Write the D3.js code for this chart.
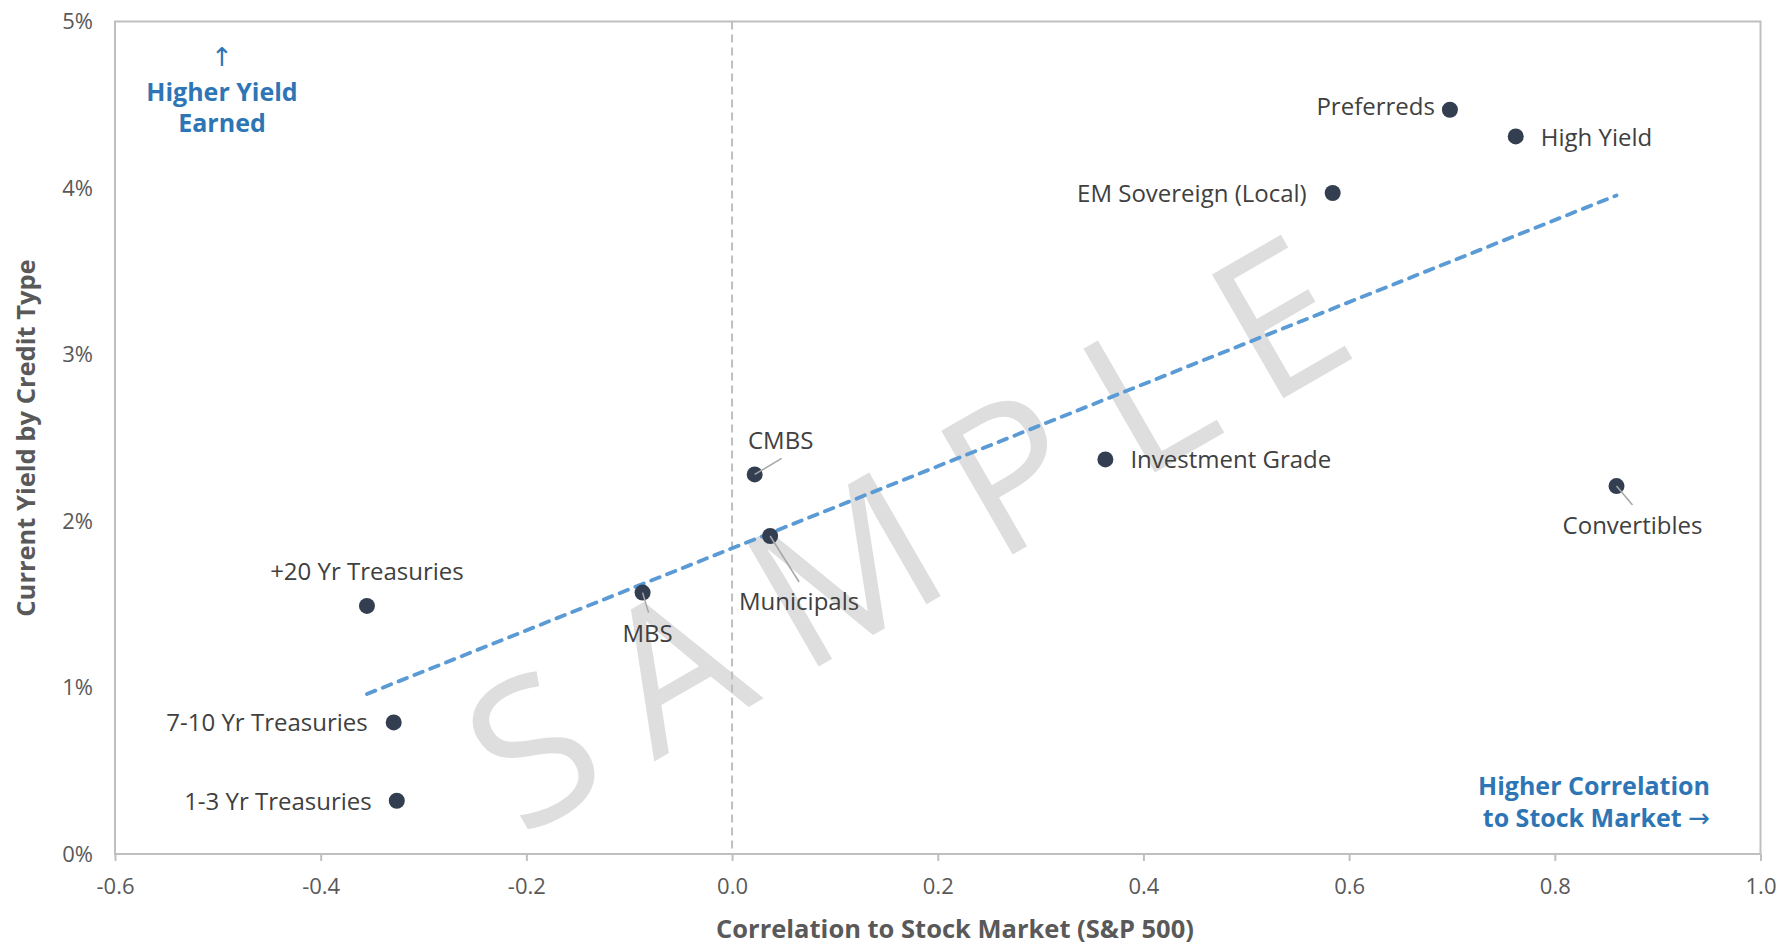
<!DOCTYPE html>
<html lang="en">
<head>
<meta charset="utf-8" />
<title>Yield vs Correlation</title>
<style>
  body { margin: 0; background: #fff; }
  text { font-family: "Open Sans", sans-serif; }
</style>
</head>
<body>
<div id="chart"></div>
<script src="https://d3js.org/d3.v7.min.js"></script>
<script>
// data
const names = ["Preferreds", "High Yield", "EM Sovereign (Local)", "Investment Grade", "Convertibles",
  "CMBS", "Municipals", "MBS", "+20 Yr Treasuries", "7-10 Yr Treasuries", "1-3 Yr Treasuries"];
const correlation = [0.698, 0.762, 0.584, 0.363, 0.860, 0.022, 0.037, -0.087, -0.355, -0.329, -0.326];
const yieldPct = [4.47, 4.31, 3.97, 2.37, 2.21, 2.28, 1.91, 1.57, 1.49, 0.79, 0.32];
const xTicks = [-0.6, -0.4, -0.2, 0.0, 0.2, 0.4, 0.6, 0.8, 1.0];
const yTicks = [0, 1, 2, 3, 4, 5];

// label placement (px offsets from the point), leader = end of a connector line
const labelLayout = [
  { dx: -15, dy: 5, anchor: "end" },
  { dx: 25, dy: 10, anchor: "start" },
  { dx: -26, dy: 9, anchor: "end" },
  { dx: 25, dy: 9, anchor: "start" },
  { dx: 16, dy: 48, anchor: "middle", leader: [16, 19] },
  { dx: 26, dy: -25, anchor: "middle", leader: [27, -16] },
  { dx: 29, dy: 74, anchor: "middle", leader: [29, 46] },
  { dx: 5, dy: 49, anchor: "middle", leader: [6, 20] },
  { dx: 0, dy: -26, anchor: "middle" },
  { dx: -26, dy: 9, anchor: "end" },
  { dx: -25, dy: 9, anchor: "end" }
];

const points = names.map((n, i) => ({ name: n, x: correlation[i], y: yieldPct[i], lay: labelLayout[i] }));

const W = 1781, H = 944;
const margin = { top: 21.5, right: 20.5, bottom: 90, left: 115 };
const width = W - margin.left - margin.right;
const height = H - margin.top - margin.bottom;

const x = d3.scaleLinear().domain([-0.6, 1.0]).range([0, width]);
const y = d3.scaleLinear().domain([0, 5]).range([height, 0]);

const root = d3.select("#chart").append("svg")
  .attr("width", W)
  .attr("height", H);

// watermark sits under everything else
root.append("text")
  .attr("transform", "translate(925, 522) rotate(-30)")
  .attr("text-anchor", "middle")
  .attr("dy", "0.36em")
  .attr("fill", "#dedede")
  .style("font-size", "200px")
  .style("font-weight", 400)
  .style("letter-spacing", "44px")
  .text("SAMPLE");

const svg = root.append("g")
  .attr("transform", `translate(${margin.left}, ${margin.top})`);

// plot box
svg.append("rect")
  .attr("width", width)
  .attr("height", height)
  .attr("fill", "none")
  .attr("stroke", "#bfbfbf")
  .attr("stroke-width", 2);

// axes
const xAxis = svg.append("g")
  .attr("transform", `translate(0, ${height})`)
  .call(d3.axisBottom(x).tickValues(xTicks).tickFormat(d => d.toFixed(1)).tickSize(7).tickPadding(17));
xAxis.select(".domain").remove();
xAxis.selectAll("line").attr("stroke", "#bfbfbf").attr("stroke-width", 2);
xAxis.selectAll("text").attr("fill", "#595959").style("font-size", "22px");

const yAxis = svg.append("g")
  .call(d3.axisLeft(y).tickValues(yTicks).tickFormat(d => d + "%").tickSize(0).tickPadding(22));
yAxis.select(".domain").remove();
yAxis.selectAll("text").attr("fill", "#595959").style("font-size", "22px");

// axis titles
root.append("text")
  .attr("x", 955)
  .attr("y", 938)
  .attr("text-anchor", "middle")
  .attr("fill", "#595959")
  .style("font-size", "25.5px")
  .style("font-weight", 700)
  .text("Correlation to Stock Market (S&P 500)");

root.append("text")
  .attr("transform", "translate(35, 438) rotate(-90)")
  .attr("text-anchor", "middle")
  .attr("fill", "#595959")
  .style("font-size", "25.5px")
  .style("font-weight", 700)
  .text("Current Yield by Credit Type");

// zero line
svg.append("line")
  .attr("x1", x(0)).attr("x2", x(0))
  .attr("y1", 0).attr("y2", height)
  .attr("stroke", "#bfbfbf")
  .attr("stroke-width", 2)
  .attr("stroke-dasharray", "8 5");

// linear trendline (least squares on the points)
const mx = d3.mean(points, d => d.x);
const my = d3.mean(points, d => d.y);
const slope = d3.sum(points, d => (d.x - mx) * (d.y - my)) / d3.sum(points, d => (d.x - mx) ** 2);
const icpt = my - slope * mx;
const ext = d3.extent(points, d => d.x);
const trend = ext.map(v => ({ x: v, y: icpt + slope * v }));

svg.append("path")
  .datum(trend)
  .attr("d", d3.line().x(d => x(d.x)).y(d => y(d.y)))
  .attr("fill", "none")
  .attr("stroke", "#5b9bd5")
  .attr("stroke-width", 3.8)
  .attr("stroke-linecap", "round")
  .attr("stroke-dasharray", "9 8");

// points
svg.selectAll(".dot")
  .data(points)
  .join("circle")
  .attr("class", "dot")
  .attr("cx", d => x(d.x))
  .attr("cy", d => y(d.y))
  .attr("r", 8)
  .attr("fill", "#333f50");

// leader lines
svg.selectAll(".leader")
  .data(points.filter(d => d.lay.leader))
  .join("line")
  .attr("class", "leader")
  .attr("x1", d => x(d.x))
  .attr("y1", d => y(d.y))
  .attr("x2", d => x(d.x) + d.lay.leader[0])
  .attr("y2", d => y(d.y) + d.lay.leader[1])
  .attr("stroke", "#a6a6a6")
  .attr("stroke-width", 1.5);

// point labels
svg.selectAll(".lbl")
  .data(points)
  .join("text")
  .attr("class", "lbl")
  .attr("x", d => x(d.x) + d.lay.dx)
  .attr("y", d => y(d.y) + d.lay.dy)
  .attr("text-anchor", d => d.lay.anchor)
  .attr("fill", "#404040")
  .style("font-size", "24px")
  .text(d => d.name);

// annotations
const blue = "#2e75b6";
const up = root.append("g").attr("fill", blue).attr("text-anchor", "middle");
up.append("text").attr("x", 222).attr("y", 66)
  .style("font-family", "DejaVu Sans").style("font-size", "26px").text("↑");
up.append("text").attr("x", 222).attr("y", 101).style("font-size", "25px").style("font-weight", 700).text("Higher Yield");
up.append("text").attr("x", 222).attr("y", 132).style("font-size", "25px").style("font-weight", 700).text("Earned");

const right = root.append("g").attr("fill", blue).attr("text-anchor", "end")
  .style("font-size", "25px").style("font-weight", 700);
right.append("text").attr("x", 1710).attr("y", 795).text("Higher Correlation");
const l2 = right.append("text").attr("x", 1710).attr("y", 827);
l2.append("tspan").text("to Stock Market ");
l2.append("tspan").style("font-family", "DejaVu Sans").style("font-weight", 400).style("font-size", "26px").text("→");
</script>
</body>
</html>
